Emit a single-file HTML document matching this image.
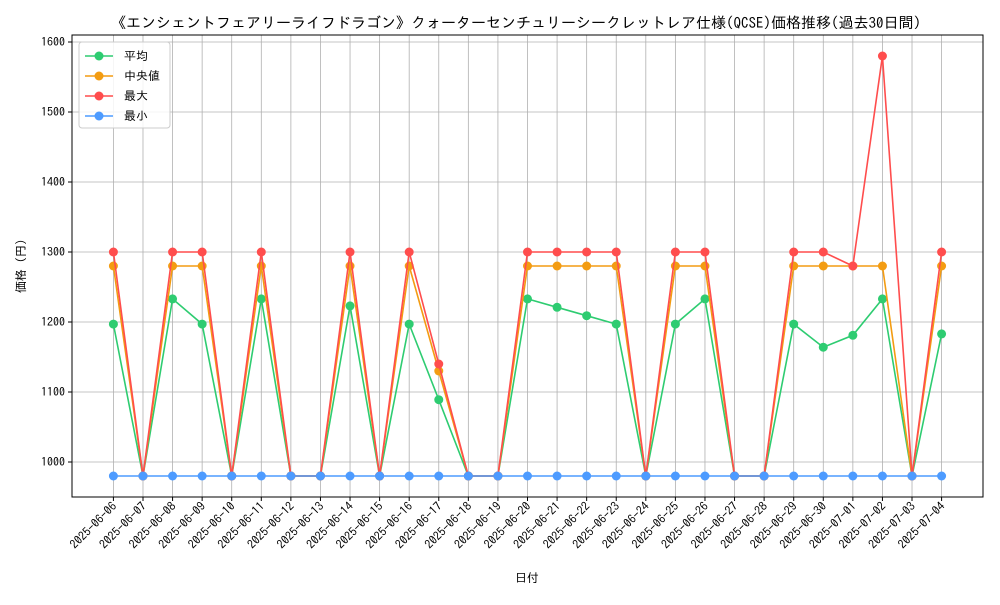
<!DOCTYPE html>
<html><head><meta charset="utf-8"><style>
body{margin:0;background:#fff;}
svg{font-family:"IPAGothic","Noto Sans CJK JP",sans-serif;}
</style></head><body>
<svg id="chart" width="1000" height="600" viewBox="0 0 1000 600">
<text x="516" y="28" text-anchor="middle" font-size="15" fill="#000">《エンシェントフェアリーライフドラゴン》クォーターセンチュリーシークレットレア仕様(QCSE)価格推移(過去30日間)</text>
<g id="grid"></g><g id="axes"></g><g id="series"></g>
<text x="527" y="582" text-anchor="middle" font-size="12">日付</text>
<text transform="translate(25,266) rotate(-90)" text-anchor="middle" font-size="12">価格 (円)</text>
<g id="legend"></g>
</svg>
<script>
const dates=["2025-06-06","2025-06-07","2025-06-08","2025-06-09","2025-06-10","2025-06-11","2025-06-12","2025-06-13","2025-06-14","2025-06-15","2025-06-16","2025-06-17","2025-06-18","2025-06-19","2025-06-20","2025-06-21","2025-06-22","2025-06-23","2025-06-24","2025-06-25","2025-06-26","2025-06-27","2025-06-28","2025-06-29","2025-06-30","2025-07-01","2025-07-02","2025-07-03","2025-07-04"];
const meanVals=[1197,980,1233,1197,980,1233,980,980,1223,980,1197,1089,980,980,1233,1221,1209,1197,980,1197,1233,980,980,1197,1164,1181,1233,980,1183];
const medianVals=[1280,980,1280,1280,980,1280,980,980,1280,980,1280,1130,980,980,1280,1280,1280,1280,980,1280,1280,980,980,1280,1280,1280,1280,980,1280];
const maxVals=[1300,980,1300,1300,980,1300,980,980,1300,980,1300,1140,980,980,1300,1300,1300,1300,980,1300,1300,980,980,1300,1300,1280,1580,980,1300];
const minVals=[980,980,980,980,980,980,980,980,980,980,980,980,980,980,980,980,980,980,980,980,980,980,980,980,980,980,980,980,980];
const yTicks=[1000,1100,1200,1300,1400,1500,1600];
const seriesNames=["平均","中央値","最大","最小"];
const NS="http://www.w3.org/2000/svg";
const L=72,R=983,T=35,B=497;
const allV=[...meanVals,...medianVals,...maxVals,...minVals];
const vmin=Math.min(...allV),vmax=Math.max(...allV),pad=(vmax-vmin)*0.05;
const y0=vmin-pad,y1=vmax+pad;
const n=dates.length,xm=(n-1)*0.05;
const xs=i=>L+(i+xm)/(n-1+2*xm)*(R-L);
const ys=v=>B-(v-y0)/(y1-y0)*(B-T);
function mk(tag,attrs,parent){const e=document.createElementNS(NS,tag);for(const k in attrs)e.setAttribute(k,attrs[k]);parent.appendChild(e);return e;}
const grid=document.getElementById('grid'),axes=document.getElementById('axes'),ser=document.getElementById('series'),leg=document.getElementById('legend');
dates.forEach((d,i)=>{const x=xs(i);
const g=mk('line',{x1:x,x2:x,y1:T,y2:B,stroke:'#b0b0b0','stroke-width':0.8},grid);


const t=mk('line',{x1:x,x2:x,y1:B,y2:B+4,stroke:'#000'},axes);


const lb=mk('text',{x:0,y:0,'text-anchor':'end','font-size':12,transform:`translate(${x+4},${B+10}) rotate(-45)`},axes);
lb.textContent=d;

});
yTicks.forEach(v=>{const y=ys(v);
const g=mk('line',{x1:L,x2:R,y1:y,y2:y,stroke:'#b0b0b0','stroke-width':0.8},grid);


const t=mk('line',{x1:L-4,x2:L,y1:y,y2:y,stroke:'#000'},axes);


const lb=mk('text',{x:L-7,y:y+4,'text-anchor':'end','font-size':12},axes);
lb.textContent=v;

});
const fr=mk('rect',{x:L,y:T,width:R-L,height:B-T,fill:'none',stroke:'#000','stroke-width':1},axes);


const data=[meanVals,medianVals,maxVals,minVals];
const colors=["#2ecc71","#f39c12","#ff4d4d","#4d9bff"];
const keys=["mean","median","max","min"];
data.forEach((vals,k)=>{const g=mk('g',{},ser);


const p=mk('polyline',{points:vals.map((v,i)=>xs(i)+','+ys(v)).join(' '),fill:'none',stroke:colors[k],'stroke-width':1.6},g);


vals.forEach((v,i)=>{const c=mk('circle',{cx:xs(i),cy:ys(v),r:4.5,fill:colors[k]},g);

});});
const lb=mk('rect',{x:79,y:42,width:91,height:86,rx:3,fill:'#fff','fill-opacity':0.85,stroke:'#ccc'},leg);


seriesNames.forEach((nm,k)=>{const y=56+k*20;const g=mk('g',{},leg);


mk('line',{x1:85,x2:113,y1:y,y2:y,stroke:colors[k],'stroke-width':1.6},g);
mk('circle',{cx:99,cy:y,r:4.5,fill:colors[k]},g);
const t=mk('text',{x:124,y:y+4,'font-size':12},g);t.textContent=nm;});
</script>
</body></html>
